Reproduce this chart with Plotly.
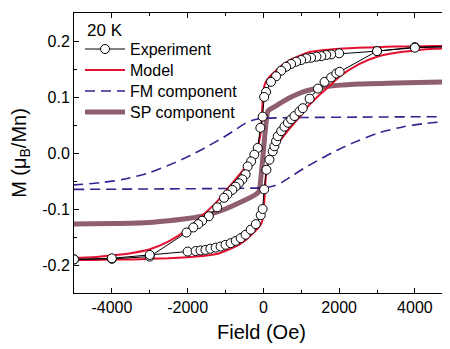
import plotly.graph_objects as go

# ---- Experiment (open circles), descending branch (field from +5000 to -5000)
exp_down_H = [5000, 4000, 3000, 2000, 1790, 1660, 1530, 1400, 1260, 1130, 1000, 865, 730, 600, 470, 335, 200, 70,
              20, -20, -80, -150, -240, -325, -415, -470, -556, -645, -733, -820, -950, -1040, -1220, -1440,
              -1615, -1720, -1850, -2030, -3000, -4000, -5000]
exp_down_M = [0.190, 0.189, 0.182, 0.178, 0.176, 0.175, 0.173, 0.172, 0.170, 0.169, 0.166, 0.163, 0.159, 0.154, 0.147, 0.137, 0.127, 0.109,
              0.100, 0.065, 0.045, 0.009, -0.003, -0.015, -0.024, -0.038, -0.047, -0.054, -0.060, -0.066, -0.074, -0.080, -0.097, -0.113,
              -0.121, -0.127, -0.133, -0.142, -0.185, -0.189, -0.190]
# ascending branch (field from -5000 to +5000)
exp_up_H = [-5000, -4000, -3000, -2000, -1790, -1660, -1530, -1400, -1260, -1130, -1000, -865, -730, -600, -470, -335, -200, -70,
            -20, 20, 80, 160, 246, 290, 335, 380, 470, 556, 645, 733, 820, 950, 1040, 1220, 1440,
            1615, 1790, 1925, 2013, 3000, 4000, 5000]
exp_up_M = [-0.190, -0.188, -0.182, -0.176, -0.175, -0.174, -0.173, -0.171, -0.169, -0.167, -0.164, -0.161, -0.157, -0.152, -0.146, -0.137, -0.127, -0.111,
            -0.100, -0.065, -0.030, -0.012, 0.003, 0.012, 0.021, 0.030, 0.039, 0.047, 0.054, 0.060, 0.066, 0.074, 0.080, 0.097, 0.115,
            0.127, 0.135, 0.142, 0.145, 0.182, 0.188, 0.190]

# ---- Model (red)
mod_down_H = [5000, 4500, 4000, 3500, 3000, 2500, 2000, 1500, 1200, 900, 700, 500, 300, 150, 50, 0, -30, -60, -100, -150, -250,
              -400, -600, -800, -1000, -1200, -1500, -1750, -2000, -2500, -3000, -3500, -4000, -4500, -5000]
mod_down_M = [0.191, 0.191, 0.190, 0.190, 0.189, 0.188, 0.186, 0.183, 0.180, 0.172, 0.166, 0.157, 0.145, 0.135, 0.125, 0.110, 0.080, 0.045,
              0.025, 0.012, 0.000, -0.018, -0.036, -0.052, -0.068, -0.085, -0.105, -0.120, -0.136, -0.158, -0.172, -0.179, -0.183, -0.186, -0.187]
mod_up_H = [-5000, -4500, -4000, -3500, -3000, -2500, -2000, -1500, -1200, -900, -700, -500, -300, -150, -50, 0, 30, 60, 100, 150, 250,
            400, 600, 800, 1000, 1200, 1500, 1750, 2000, 2500, 3000, 3500, 4000, 4500, 5000]
mod_up_M = [-0.191, -0.191, -0.190, -0.190, -0.189, -0.188, -0.186, -0.183, -0.180, -0.172, -0.166, -0.157, -0.145, -0.135, -0.125, -0.110, -0.080, -0.045,
            -0.025, -0.012, 0.000, 0.018, 0.036, 0.052, 0.068, 0.085, 0.105, 0.120, 0.136, 0.158, 0.172, 0.179, 0.183, 0.186, 0.187]

# ---- FM component (dashed)
fm_down_H = [5000, 2500, 0, -265, -500, -800, -1100, -1500, -1800, -2100, -2400, -3000, -3700, -4300, -5000]
fm_down_M = [0.065, 0.064, 0.062, 0.059, 0.052, 0.039, 0.026, 0.011, 0.000, -0.010, -0.019, -0.035, -0.047, -0.053, -0.057]
fm_up_H = [-5000, -2500, 0, 265, 500, 800, 1100, 1500, 1800, 2100, 2400, 3000, 3700, 4300, 5000]
fm_up_M = [-0.065, -0.064, -0.062, -0.059, -0.052, -0.039, -0.026, -0.011, 0.000, 0.010, 0.019, 0.035, 0.047, 0.053, 0.057]

# ---- SP component (thick)
sp_H = [-5000, -4000, -3000, -2500, -2000, -1500, -1000, -636, -300, -120, 120, 300, 733, 1086, 1615, 2500, 3500, 5000]
sp_M = [-0.127, -0.126, -0.124, -0.121, -0.117, -0.111, -0.100, -0.089, -0.078, -0.069, 0.075, 0.083, 0.100, 0.110, 0.118, 0.123, 0.125, 0.127]

x_tickvals = [-4000, -2000, 0, 2000, 4000]
x_ticktext = ["-4000", "-2000", "0", "2000", "4000"]
y_tickvals = [-0.2, -0.1, 0.0, 0.1, 0.2]
y_ticktext = ["-0.2", "-0.1", "0.0", "0.1", "0.2"]

RED = "#e3102f"
FM_COL = "#3b1f8e"
SP_COL = "#8f5f6f"
FONT = "Liberation Sans, Arial, sans-serif"

fig = go.Figure()
fig.add_trace(go.Scatter(
    x=sp_H, y=sp_M, mode="lines", name="SP component", legend="legend4",
    line=dict(color=SP_COL, width=5, shape="spline", smoothing=0.4),
))
fig.add_trace(go.Scatter(
    x=fm_down_H + [None] + fm_up_H, y=fm_down_M + [None] + fm_up_M, legend="legend3",
    mode="lines", name="FM component", line=dict(color=FM_COL, width=1.6, dash="10px,6px", shape="spline", smoothing=0.6),
))
fig.add_trace(go.Scatter(
    x=mod_down_H + [None] + mod_up_H, y=mod_down_M + [None] + mod_up_M, legend="legend2",
    mode="lines", name="Model", line=dict(color=RED, width=2, shape="spline", smoothing=0.6),
))
fig.add_trace(go.Scatter(
    x=exp_down_H + [None] + exp_up_H, y=exp_down_M + [None] + exp_up_M, legend="legend",
    mode="lines+markers", name="Experiment",
    line=dict(color="black", width=1),
    marker=dict(symbol="circle", size=9, color="white", line=dict(color="black", width=1)),
))

fig.add_annotation(x=0.03, y=0.977, xref="paper", yref="paper", text="20 K", showarrow=False,
                   xanchor="left", yanchor="top", font=dict(size=17, color="black", family=FONT))

axis_common = dict(
    showline=True, linecolor="black", linewidth=1, mirror="allticks",
    ticks="inside", ticklen=5, tickwidth=1, tickcolor="black",
    showgrid=False, zeroline=False, automargin=False,
    tickfont=dict(size=16, color="black", family=FONT),
)
fig.update_xaxes(range=[-5000, 4900], tickvals=x_tickvals, ticktext=x_ticktext,
                 minor=dict(dtick=1000, tick0=0, ticks="inside", ticklen=3, tickcolor="black", showgrid=False),
                 title=dict(text="Field (Oe)", font=dict(size=20, color="black", family=FONT), standoff=9),
                 **axis_common)
fig.update_yaxes(range=[-0.25, 0.25], tickvals=y_tickvals, ticktext=y_ticktext,
                 minor=dict(dtick=0.05, tick0=0, ticks="inside", ticklen=3, tickcolor="black", showgrid=False),
                 title=dict(text="M (μ<sub>B</sub>/Mn)", font=dict(size=20, color="black", family=FONT), standoff=12),
                 **axis_common)

leg_common = dict(x=0.016, xanchor="left", yanchor="middle", bgcolor="rgba(0,0,0,0)",
                  font=dict(size=16, color="black", family=FONT), itemwidth=40)
fig.update_layout(
    width=442, height=341,
    margin=dict(l=66, r=1, t=5, b=56),
    paper_bgcolor="white", plot_bgcolor="white",
    font=dict(family=FONT, color="black"),
    showlegend=True,
    legend=dict(y=0.871, **leg_common),
    legend2=dict(y=0.796, **leg_common),
    legend3=dict(y=0.721, **leg_common),
    legend4=dict(y=0.646, **leg_common),
)

fig.write_html("out.html")
